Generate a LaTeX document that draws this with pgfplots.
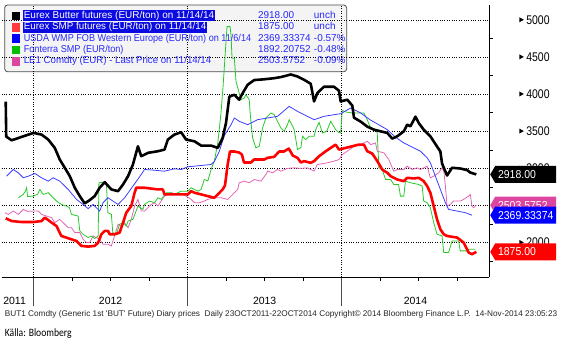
\documentclass[border=0pt]{standalone}
\usepackage{pgfplots}
\pgfplotsset{compat=1.18}
\usepackage{fontspec}
\setmainfont{Liberation Sans}
\newfontfamily\calibri{Carlito}
\definecolor{bbBlue}{RGB}{40,40,255}
\definecolor{hlBlue}{RGB}{10,10,225}
\definecolor{lgRed}{RGB}{255,60,60}
\definecolor{cGreen}{RGB}{40,200,40}
\definecolor{cPink}{RGB}{228,100,180}
\definecolor{bPink}{RGB}{220,70,160}
\definecolor{cBlue}{RGB}{60,60,255}
\definecolor{legbg}{RGB}{244,244,244}
\newcommand\px[2]{([shift={(#1pt,{(5-#2)*1pt})}]rel axis cs:0,1)}
\newcommand\po[2]{(#1pt,{(278-#2)*1pt})}
\newcommand\lgfont{\fontsize{10}{12}\selectfont}
\tikzset{lgt/.style={anchor=west, inner xsep=0.5pt, inner ysep=0.9pt, text height=7.2pt, text depth=2.1pt, font=\lgfont},
  bdg/.style={anchor=west, inner sep=0pt, text=white, font=\fontsize{10.5}{12}\selectfont}}
\newcommand\badge[3]{%
  \fill[#2] ([xshift=1pt]#1) -- ++(5pt,8.5pt) -- ++(61pt,0) -- ++(0,-17pt) -- ++(-61pt,0) -- cycle;
  \node[bdg] at ([xshift=8.7pt]#1) {\scalebox{1}[1.1]{#3}};}
\begin{document}
\begin{tikzpicture}
\begin{axis}[
  at={(0,0)}, anchor=south west,
  scale only axis, width=489pt, height=273pt,
  xmin=-2.485, xmax=35.495, ymin=1534, ymax=5201.5,
  axis x line*=bottom, axis y line*=right,
  axis line style={line width=0.9pt, black},
  set layers, clip=false,
  tick align=outside,
  xtick={0,12,24}, xticklabels={,,},
  major tick length=29pt, minor tick length=4pt,
  major x tick style={gray!60!black, line width=0.6pt},
  minor x tick style={black, line width=0.6pt},
  minor xtick={3,6,9,15,18,21,27,30,33},
  extra x ticks={-1.48,6,18,29.75},
  extra x tick labels={2011,2012,2013,2014},
  extra x tick style={grid=none, major tick length=0pt, tick style={draw=none}},
  xticklabel style={anchor=base, yshift=-27pt, font=\fontsize{10.5}{12}\selectfont},
  ytick={2000,2500,3000,3500,4000,4500,5000},
  minor ytick={1750,2250,2750,3250,3750,4250,4750},
  major y tick style={draw=none},
  minor y tick style={black, line width=0.6pt},
  yticklabel style={anchor=west, inner sep=0pt, xshift=1pt, font=\fontsize{10.5}{12}\selectfont},
  yticklabel={\tikz[baseline={(0,-4.5pt)}]\fill (0,-2.5pt)--(4.5pt,0)--(0,2.5pt)--cycle;\hspace{2.5pt}\scalebox{1}[1.2]{\pgfmathprintnumber[assume math mode=true,1000 sep={}]{\tick}}},
  xmajorgrids, ymajorgrids,
  major grid style={black, line width=0.7pt, dash pattern=on 0.8pt off 1.6pt},
]
% ---------- legend background ----------
\begin{pgfonlayer}{axis background}
\filldraw[fill=legbg, draw=gray!60!black, line width=0.8pt, rounded corners=3pt] \px{3}{5} rectangle \px{346}{72};
\end{pgfonlayer}

% LE1 Comdty (pink)
\addplot[cPink, line width=0.8pt] coordinates {
(-2.23,2403) (-1.97,2380) (-1.58,2425) (-1.19,2380) (-0.80,2447) (-0.47,2420)
(-0.02,2425) (0.37,2425) (0.62,2380) (1.01,2357) (1.40,2336) (1.65,2269)
(2.04,2313) (2.43,2246) (2.70,2201) (2.95,2201) (3.21,2134) (3.60,2134)
(3.86,2044) (4.12,2000) (4.37,2000) (4.64,2089) (4.89,2067) (5.15,2044)
(5.41,1977) (5.80,1977) (6.06,1955) (6.31,2089) (6.58,2246) (6.83,2223)
(7.09,2269) (7.36,2201) (7.61,2313) (7.87,2492) (8.13,2582) (8.39,2425)
(8.64,2425) (8.91,2470) (9.17,2514) (9.42,2537) (9.69,2492) (9.94,2559)
(10.20,2626) (10.46,2649) (10.72,2672) (11.24,2649) (11.63,2649) (11.88,2626)
(12.27,2582) (12.53,2537) (12.92,2537) (13.30,2559) (13.57,2582) (14.08,2604)
(14.60,2604) (15.12,2582) (15.38,2626) (15.64,2672) (15.90,2716) (16.02,2806)
(16.41,2828) (16.80,2806) (17.19,2850) (17.71,2828) (18.10,2918) (18.23,2962)
(18.62,2940) (19.00,2985) (19.26,2962) (19.78,3000) (20.30,3007) (20.82,3000)
(21.34,3007) (21.85,2962) (22.11,3052) (22.89,3075) (23.40,3097) (23.79,3119)
(24.05,3186) (24.44,3231) (24.96,3298) (25.48,3320) (25.99,3365) (26.25,3320)
(26.64,3343) (26.77,3231) (27.29,3209) (27.67,3119) (28.06,2962) (28.33,2985)
(28.84,2985) (29.10,3030) (29.49,2985) (29.88,3007) (30.14,2985) (30.66,3030)
(30.91,2873) (31.17,2895) (31.56,2940) (31.82,3007) (31.96,2960) (32.08,2761)
(32.21,2492) (32.47,2514) (32.72,2559) (33.24,2559) (33.50,2582) (33.89,2626)
(34.02,2649) (34.15,2492) (34.28,2470) (34.49,2504)
};
% Fonterra SMP (green)
\addplot[cGreen, line width=0.8pt] coordinates {
(-1.19,2604) (-0.80,2649) (-0.62,2700) (-0.54,2739) (-0.47,2620) (-0.02,2626)
(0.31,2650) (0.49,2716) (0.75,2649) (1.14,2672) (1.40,2626) (1.79,2559)
(2.17,2514) (2.56,2492) (2.80,2470) (2.95,2380) (3.47,2357) (3.60,2157)
(3.86,2112) (4.25,2067) (4.50,2089) (4.76,2054) (5.03,2089) (5.09,2806)
(5.41,2814) (5.67,2806) (5.79,2403) (6.06,2380) (6.17,2134) (6.45,2112)
(6.70,2246) (6.97,2269) (7.22,2223) (7.36,2290) (7.74,2313) (8.13,2492)
(8.52,2447) (8.64,2514) (9.03,2559) (9.42,2537) (9.69,2604) (9.94,2582)
(10.33,2672) (10.72,2672) (10.97,2649) (11.50,2693) (12.02,2693) (12.27,2739)
(12.80,2693) (13.05,2716) (13.30,2850) (13.57,2830) (13.83,2985) (14.08,3097)
(14.35,3343) (14.60,3746) (14.76,4100) (14.95,4600) (15.07,4910) (15.30,4910)
(15.38,4800) (15.46,4485) (15.64,4485) (15.77,4171) (16.16,3925) (16.41,3948)
(16.54,3992) (16.80,3925) (16.88,3724) (17.06,3410) (17.32,3276) (17.58,3298)
(17.84,3545) (18.10,3679) (18.49,3746) (18.74,3724) (19.26,3545) (19.52,3500)
(19.78,3589) (19.91,3656) (20.12,3589) (20.30,3522) (20.56,3253) (20.82,3280)
(20.95,3432) (21.20,3388) (21.46,3432) (21.85,3432) (21.98,3522) (22.24,3620)
(22.50,3478) (22.83,3500) (23.15,3634) (23.53,3522) (23.79,3480) (23.92,3478)
(24.05,3780) (24.31,3760) (24.83,3746) (25.73,3746) (25.99,3656) (26.25,3545)
(26.64,3522) (26.77,3478) (26.90,3007) (27.16,2985) (27.42,2850) (27.81,2850)
(28.06,2783) (28.43,2783) (28.58,2626) (28.84,2626) (28.97,2828) (29.36,2806)
(30.00,2783) (30.27,2761) (30.39,2559) (30.66,2537) (30.91,2470) (31.17,2269)
(31.43,2112) (31.82,2090) (31.95,1866) (32.33,1866) (32.60,2022) (33.11,2022)
(33.24,1888) (33.76,1888) (33.89,1910) (34.41,1910)
};
% USDA WMP (blue)
\addplot[cBlue, line width=0.8pt] coordinates {
(-2.10,2895) (-1.58,2985) (-1.19,2940) (-0.80,2873) (-0.41,2895) (0.10,2931)
(0.62,2873) (1.14,2828) (1.53,2873) (2.04,2828) (2.70,2716) (3.34,2582)
(3.86,2514) (4.25,2457) (4.64,2514) (5.15,2425) (5.41,2537) (5.80,2604)
(6.19,2559) (6.58,2514) (7.09,2604) (7.74,2761) (8.39,2918) (8.64,2985)
(9.42,2975) (10.20,2962) (10.97,2994) (11.50,2985) (12.02,3021) (13.05,3039)
(13.83,3052) (14.08,3092) (14.47,3231) (14.86,3442) (15.38,3589) (15.64,3679)
(16.02,3634) (16.68,3589) (17.45,3656) (18.23,3679) (19.00,3701) (19.91,3835)
(20.56,3768) (21.85,3656) (22.62,3701) (23.92,3737) (24.70,3813) (25.48,3746)
(26.25,3650) (26.77,3600) (27.55,3522) (28.19,3420) (28.84,3343) (29.36,3298)
(30.14,3231) (30.66,3142) (30.91,3075) (31.30,2895) (31.69,2716) (32.08,2537)
(32.33,2447) (32.99,2425) (33.63,2403) (34.15,2369)
};
% Eurex SMP (red)
\addplot[red, line width=2.6pt, line join=round] coordinates {
(-2.17,2327) (-1.71,2290) (-0.93,2277) (0.00,2277) (0.62,2290) (0.88,2336)
(1.17,2300) (1.40,2269) (1.79,2223) (2.02,2138) (2.17,2089) (2.56,2067)
(2.95,2044) (3.34,2022) (3.73,1955) (4.25,1946) (4.76,1955) (5.03,2000)
(5.28,2112) (5.54,2157) (5.80,2157) (5.93,2112) (6.31,2112) (6.70,2134)
(6.97,2269) (7.22,2403) (7.61,2492) (7.87,2672) (8.00,2739) (8.64,2739)
(9.69,2716) (10.07,2716) (10.20,2649) (12.02,2649) (12.27,2693) (12.53,2672)
(13.05,2649) (13.57,2626) (14.08,2604) (14.35,2649) (14.73,2716) (14.91,2770)
(15.12,3052) (15.30,3227) (15.64,3227) (16.02,3213) (16.23,3186) (16.39,3079)
(16.93,3079) (17.17,3119) (17.97,3119) (18.23,3142) (18.74,3155) (19.13,3227)
(19.50,3227) (19.88,3267) (20.19,3173) (20.56,3142) (20.82,3079) (21.07,3097)
(21.59,3075) (21.85,3097) (22.24,3164) (22.76,3231) (23.15,3276) (23.53,3320)
(23.79,3253) (24.31,3276) (24.83,3298) (25.34,3320) (25.73,3320) (25.99,3231)
(26.38,3200) (26.77,3100) (27.16,2985) (27.55,2940) (27.81,2895) (28.33,2850)
(28.84,2828) (29.10,2873) (29.62,2864) (30.00,2873) (30.39,2828) (30.66,2761)
(30.91,2672) (31.17,2492) (31.43,2313) (31.69,2179) (31.95,2112) (32.21,2089)
(33.00,2067) (33.50,2000) (33.76,1910) (33.89,1866) (34.15,1843) (34.49,1875)
};
% Eurex Butter (black)
\addplot[black, line width=2.6pt, line join=round] coordinates {
(-2.17,3898) (-2.13,3428) (-1.71,3378) (-0.93,3424) (0.00,3478) (0.62,3455)
(1.14,3388) (1.65,3276) (2.04,3119) (2.43,3008) (2.82,2895) (3.21,2739)
(3.60,2626) (3.98,2528) (4.37,2572) (4.76,2626) (5.15,2739) (5.54,2814)
(6.06,2716) (6.58,2693) (6.97,2783) (7.36,2895) (7.74,3052) (8.13,3298)
(8.39,3163) (8.91,3209) (9.69,3231) (10.20,3253) (10.46,3388) (10.97,3455)
(11.50,3486) (11.88,3388) (12.53,3365) (13.05,3307) (13.83,3307) (14.35,3276)
(14.73,3410) (14.99,3612) (15.25,3966) (15.64,3992) (16.02,3925) (16.29,4015)
(16.68,4127) (17.19,4190) (17.97,4200) (18.74,4215) (19.26,4230) (20.04,4265)
(20.56,4238) (21.07,4194) (21.59,4140) (21.85,3902) (22.11,4015) (22.62,4100)
(23.40,4100) (23.79,4046) (23.92,3902) (24.44,3925) (24.83,3845) (24.96,3683)
(25.48,3630) (26.00,3562) (26.51,3522) (27.03,3499) (27.55,3478) (27.94,3401)
(28.33,3432) (28.84,3499) (29.10,3589) (29.36,3567) (29.75,3697) (30.00,3612)
(30.39,3522) (30.91,3432) (31.43,3294) (31.69,3227) (31.82,3065) (32.21,2904)
(32.60,3008) (33.24,2998) (33.76,2978) (34.02,2944) (34.49,2918)
};
\coordinate (bK) at (axis cs:35.495,2918);
\coordinate (bR) at (axis cs:35.495,1875);
\coordinate (bB) at (axis cs:35.495,2369.33374);
\coordinate (bP) at (axis cs:35.495,2503.5752);
\end{axis}
% ---------- legend contents ----------
\fill[black]  \po{10}{11.75} rectangle \po{18.5}{20.25};
\fill[lgRed]  \po{10}{23.15} rectangle \po{18.5}{31.65};
\fill[blue]   \po{10}{34.55} rectangle \po{18.5}{43.05};
\fill[green!75!black] \po{10}{45.95} rectangle \po{18.5}{54.45};
\fill[bPink]  \po{10}{57.35} rectangle \po{18.5}{65.85};
\node[lgt, fill=hlBlue, text=white] at \po{21.5}{16} {Eurex Butter futures (EUR/ton) on 11/14/14};
\node[lgt, fill=hlBlue, text=white] at \po{21.5}{27.4} {\resizebox{183pt}{\height}{Eurex SMP futures (EUR/ton) on 11/14/14}};
\node[lgt, text=bbBlue] at \po{21.5}{38.8} {\resizebox{228pt}{\height}{USDA WMP FOB Western Europe (EUR/ton) on 11/6/14}};
\node[lgt, text=bbBlue] at \po{21.5}{50.2} {\resizebox{100pt}{\height}{Fonterra SMP (EUR/ton)}};
\node[lgt, text=bbBlue] at \po{21.5}{61.6} {\resizebox{188pt}{\height}{LE1 Comdty (EUR) - Last Price on 11/14/14}};
\node[lgt, text=bbBlue] at \po{256.5}{16} {2918.00};
\node[lgt, text=bbBlue] at \po{256.5}{27.4} {1875.00};
\node[lgt, text=bbBlue] at \po{256.5}{38.8} {2369.33374};
\node[lgt, text=bbBlue] at \po{256.5}{50.2} {1892.20752};
\node[lgt, text=bbBlue] at \po{256.5}{61.6} {2503.5752};
\node[lgt, text=bbBlue] at \po{312.5}{16} {unch};
\node[lgt, text=bbBlue] at \po{312.5}{27.4} {unch};
\node[lgt, text=bbBlue] at \po{312.5}{38.8} {-0.57\%};
\node[lgt, text=bbBlue] at \po{312.5}{50.2} {-0.48\%};
\node[lgt, text=bbBlue] at \po{312.5}{61.6} {-0.09\%};
% ---------- value badges ----------
\badge{bP}{bPink}{2503.5752}
\badge{bB}{blue}{2369.33374}
\badge{bK}{black}{2918.00}
\badge{bR}{red}{1875.00}
% ---------- footer ----------
\node[anchor=base west, inner sep=0pt, text=black!85] at (3pt,-39.5pt) {\resizebox{554pt}{!}{BUT1 Comdty (Generic 1st \textquotesingle BUT\textquotesingle\ Future) Diary prices\ \ Daily 23OCT2011-22OCT2014 Copyright\textcopyright\ 2014 Bloomberg Finance L.P.\ \ 14-Nov-2014 23:05:23}};
\node[anchor=base west, inner sep=0pt, text=black] at (3pt,-60pt) {\calibri\resizebox{67pt}{7.8pt}{Källa: Bloomberg}};
\path (0,-74pt) rectangle (563pt,278pt);
\end{tikzpicture}
\end{document}
